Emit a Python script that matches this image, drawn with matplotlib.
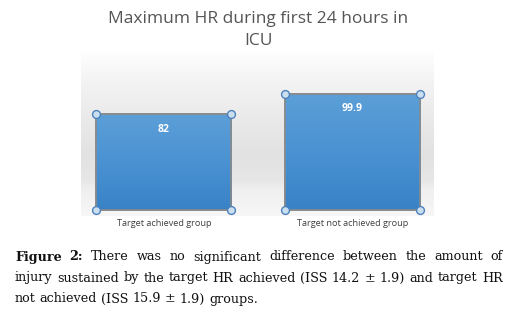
import numpy as np
import matplotlib.pyplot as plt
from matplotlib.colors import LinearSegmentedColormap

groups = ['Target achieved group', 'Target not achieved group']
max_hr = [82, 99.9]
value_labels = ['82', '99.9']
title = 'Maximum HR during first 24 hours in\nICU'

W, H = 519, 316
fig = plt.figure(figsize=(W / 100, H / 100), dpi=100)
fig.patch.set_facecolor('white')

def px(x0, y0, x1, y1):
    # pixel box (top-left origin) -> figure fraction rect
    return [x0 / W, 1 - y1 / H, (x1 - x0) / W, (y1 - y0) / H]

# background gradient of the chart area
bg = fig.add_axes(px(81, 52, 434, 216), zorder=0)
bg_cmap = LinearSegmentedColormap.from_list('bg', [
    (0.0, '#fefefe'), (0.18, '#f3f3f3'), (0.40, '#eaeaea'), (0.62, '#e2e2e2'),
    (0.78, '#e6e6e6'), (0.84, '#efefef'), (1.0, '#f7f7f7')])
bg.imshow(np.linspace(0, 1, 200).reshape(-1, 1), aspect='auto', cmap=bg_cmap,
          extent=[0, 1, 0, 1])
bg.axis('off')

ax = fig.add_axes(px(81, 55, 434, 215), zorder=1)
ax.patch.set_alpha(0)
x = np.arange(len(groups))
bars = ax.bar(x, max_hr, width=0.716, color='#4a90d0', edgecolor='#8a8a8a',
              linewidth=1.2, zorder=2)
ax.axis('off')

bar_cmap = LinearSegmentedColormap.from_list('bar', ['#3882c6', '#4a92d2', '#5c9fd8'])
for b in bars:
    x0, w, h = b.get_x(), b.get_width(), b.get_height()
    im = ax.imshow(np.linspace(0, 1, 100).reshape(-1, 1), aspect='auto', cmap=bar_cmap,
                   origin='lower', extent=[x0, x0 + w, 0, h], zorder=2.5)
    im.set_clip_path(b)
    ax.plot([x0, x0 + w, x0 + w, x0, x0], [0, 0, h, h, 0], color='#8a8a8a', lw=1.2, zorder=3)
    cx, cy = [x0, x0 + w, x0, x0 + w], [0, 0, h, h]
    ax.scatter(cx, cy, s=32, facecolor='#c9dff0', edgecolor='#4f81bd', linewidth=1.0,
               zorder=4, clip_on=False)
ax.set_xlim(-0.44, 1.432)
ax.set_ylim(-4.3, 133)

for i, v in enumerate(max_hr):
    ax.text(x[i], v - 13, value_labels[i], ha='center', va='center', color='white',
            fontsize=7.5, fontweight='bold', family='Open Sans', zorder=5)

for i, g in enumerate(groups):
    fig.text((164 + i * 188.5) / W, 1 - 224 / H, g, ha='center', va='center',
             fontsize=6.6, color='#404040', family='Open Sans')

fig.text(258 / W, 1 - 30 / H, title, ha='center', va='center', fontsize=12.5,
         color='#555555', family='Open Sans', linespacing=1.55)

# justified caption
left, right = 15, 503
lines = [
    (['Figure', '2:', 'There', 'was', 'no', 'significant', 'difference', 'between', 'the',
      'amount', 'of'], True),
    (['injury', 'sustained', 'by', 'the', 'target', 'HR', 'achieved', '(ISS', '14.2',
      '\u00b1', '1.9)', 'and', 'target', 'HR'], True),
    (['not', 'achieved', '(ISS', '15.9', '\u00b1', '1.9)', 'groups.'], False),
]
ys = [257, 278, 299]
fig.canvas.draw()
r = fig.canvas.get_renderer()
probe = fig.text(0, 0, ' '.join(lines[1][0]), fontsize=10, family='DejaVu Serif')
fs = 10 * (right - left) / probe.get_window_extent(r).width * 0.99
probe.remove()
sp = fig.text(0, 0, 'a a', fontsize=fs, family='DejaVu Serif')
sp2 = fig.text(0, 0, 'aa', fontsize=fs, family='DejaVu Serif')
space_w = sp.get_window_extent(r).width - sp2.get_window_extent(r).width
sp.remove()
sp2.remove()
for (words, just), yy in zip(lines, ys):
    texts = []
    for k, wd in enumerate(words):
        bold = yy == ys[0] and k < 2
        t = fig.text(0, 1 - yy / H, wd, ha='left', va='center', fontsize=fs,
                     family='DejaVu Serif', color='#111111',
                     fontweight='bold' if bold else 'normal')
        texts.append(t)
    widths = [t.get_window_extent(r).width for t in texts]
    if just:
        gap = (right - left - sum(widths)) / (len(words) - 1)
    else:
        gap = space_w
    pos = left
    for t, wdt in zip(texts, widths):
        t.set_x(pos / W)
        pos += wdt + gap

fig.savefig('out.png', dpi=100, facecolor='white')
